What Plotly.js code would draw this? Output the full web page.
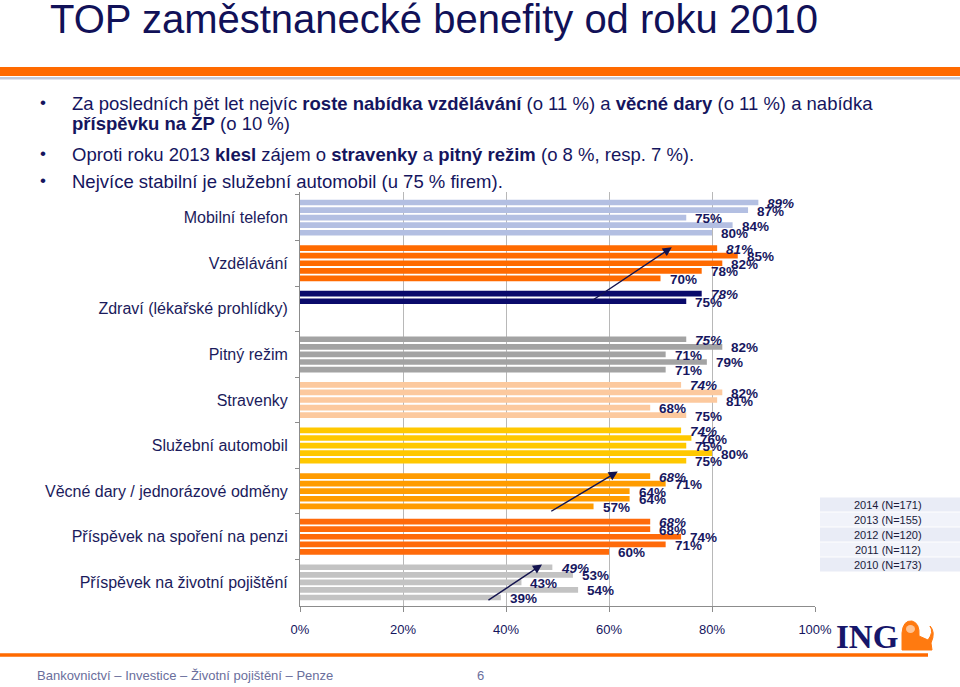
<!DOCTYPE html>
<html>
<head>
<meta charset="utf-8">
<script src="https://cdn.plot.ly/plotly-3.0.1.min.js"></script>
<style>html,body{margin:0;padding:0;background:#fff;}#chart{width:960px;height:687px;}</style>
</head>
<body>
<div id="chart"></div>
<script>
// ---- data ----
const categories = [
  'Mobilní telefon',
  'Vzdělávání',
  'Zdraví (lékařské prohlídky)',
  'Pitný režim',
  'Stravenky',
  'Služební automobil',
  'Věcné dary / jednorázové odměny',
  'Příspěvek na spoření na penzi',
  'Příspěvek na životní pojištění'
];
const seriesNames = ['2014 (N=171)', '2013 (N=155)', '2012 (N=120)', '2011 (N=112)', '2010 (N=173)'];
const v2014 = [89, 81, 78, 75, 74, 74, 68, 68, 49];
const v2013 = [87, 85, 75, 82, 82, 76, 71, 68, 53];
const v2012 = [75, 82, null, 71, 81, 75, 64, 74, 43];
const v2011 = [84, 78, null, 79, 68, 80, 64, 71, 54];
const v2010 = [80, 70, null, 71, 75, 75, 57, 60, 39];
const seriesValues = [v2014, v2013, v2012, v2011, v2010];
const categoryColors = ['#b3bfe2', '#ff6a00', '#0a0a6b', '#a3a3a3', '#fcc99e', '#ffc800', '#ff9c00', '#ff6a0a', '#c3c3c3'];
const xTickVals = [0, 20, 40, 60, 80, 100];
const xTickText = ['0%', '20%', '40%', '60%', '80%', '100%'];
// arrows: tail and head (x in %, y as category index)
const arrowTailX = [56.3, 48.5, 36.3];
const arrowTailY = [1.85, 6.46, 8.41];
const arrowHeadX = [72.2, 61.7, 47.0];
const arrowHeadY = [0.65, 5.57, 7.61];

// ---- layout constants ----
const W = 960, H = 687;
const L = 300, R = 145, T = 192, B = 81;
const PW = W - L - R, PH = H - T - B;
const px = x => (x - L) / PW;
const py = y => (H - B - y) / PH;
const BARGAP = 0.17, GROUPGAP = 0.25;
const NAVY = '#15155e';
const FONT = 'Liberation Sans, Arial, sans-serif';

const traces = seriesValues.map((vals, k) => ({
  type: 'bar',
  orientation: 'h',
  name: seriesNames[k],
  y: categories,
  x: vals,
  marker: {color: categoryColors, line: {width: 0}},
  hoverinfo: 'x+y',
  showlegend: false
}));

const annotations = [];
// data labels
const slot = (1 - BARGAP) / seriesValues.length;
seriesValues.forEach((vals, k) => {
  const off = -(1 - BARGAP) / 2 + slot * (k + 0.5);
  vals.forEach((v, i) => {
    if (v === null) return;
    annotations.push({
      x: v, y: i + off, xref: 'x', yref: 'y',
      text: v + '%', showarrow: false,
      xanchor: 'left', yanchor: 'middle', xshift: 7, yshift: -1,
      font: {family: FONT, size: 13.5, color: '#17175f', weight: 'bold', style: k === 0 ? 'italic' : 'normal'}
    });
  });
});
// arrows
arrowTailX.forEach((tx, j) => {
  annotations.push({
    x: arrowHeadX[j], y: arrowHeadY[j], ax: tx, ay: arrowTailY[j],
    xref: 'x', yref: 'y', axref: 'x', ayref: 'y',
    text: '', showarrow: true, arrowhead: 2, arrowsize: 1.3, arrowwidth: 1.4, arrowcolor: '#13134f'
  });
});
// bullets
const bulletLines = [
  {y: 104, bullet: true, text: 'Za posledních pět let nejvíc <b>roste nabídka vzdělávání</b> (o 11 %) a <b>věcné dary</b> (o 11 %) a nabídka'},
  {y: 124, bullet: false, text: '<b>příspěvku na ŽP</b> (o 10 %)'},
  {y: 154, bullet: true, text: 'Oproti roku 2013 <b>klesl</b> zájem o <b>stravenky</b> a <b>pitný režim</b> (o 8 %, resp. 7 %).'},
  {y: 181, bullet: true, text: 'Nejvíce stabilní je služební automobil (u 75 % firem).'}
];
bulletLines.forEach(b => {
  annotations.push({xref: 'paper', yref: 'paper', x: px(70), y: py(b.y), xanchor: 'left', yanchor: 'middle',
    text: b.text, showarrow: false, font: {family: FONT, size: 18.5, color: NAVY}});
  if (b.bullet) annotations.push({xref: 'paper', yref: 'paper', x: px(43), y: py(b.y - 1), xanchor: 'center', yanchor: 'middle',
    text: '•', showarrow: false, font: {family: FONT, size: 17, color: NAVY}});
});
// legend table text
const rowTop = 497, rowH = 15;
seriesNames.forEach((s, k) => {
  annotations.push({xref: 'paper', yref: 'paper', x: px(888), y: py(rowTop + rowH * k + rowH / 2), xanchor: 'center', yanchor: 'middle',
    text: s, showarrow: false, font: {family: FONT, size: 11, color: '#1a1a3a'}});
});
// footer
annotations.push({xref: 'paper', yref: 'paper', x: px(35), y: py(675), xanchor: 'left', yanchor: 'middle',
  text: 'Bankovnictví – Investice – Životní pojištění – Penze', showarrow: false, font: {family: FONT, size: 13, color: '#6a6e9c'}});
annotations.push({xref: 'paper', yref: 'paper', x: px(480), y: py(675), xanchor: 'center', yanchor: 'middle',
  text: '6', showarrow: false, font: {family: FONT, size: 13, color: '#6a6e9c'}});
annotations.push({xref: 'paper', yref: 'paper', x: px(867), y: py(637), xanchor: 'center', yanchor: 'middle',
  text: 'ING', showarrow: false, font: {family: 'Liberation Serif, DejaVu Serif, serif', size: 33, color: '#16166a', weight: 'bold'}});

const shapes = [];
// legend table rows
seriesNames.forEach((s, k) => {
  shapes.push({type: 'rect', xref: 'paper', yref: 'paper', layer: 'below',
    x0: px(820), x1: px(960), y0: py(rowTop + rowH * k + 0.5), y1: py(rowTop + rowH * (k + 1) - 0.5),
    fillcolor: k % 2 === 0 ? '#e9ecf6' : '#f1f3fa', line: {width: 0}});
});
// top band and footer line
shapes.push({type: 'rect', xref: 'paper', yref: 'paper', x0: px(0), x1: px(960), y0: py(76), y1: py(67), fillcolor: '#ff6a00', line: {width: 0}});
shapes.push({type: 'rect', xref: 'paper', yref: 'paper', x0: px(0), x1: px(960), y0: py(79.5), y1: py(77), fillcolor: '#c3c9d8', line: {width: 0}});
shapes.push({type: 'line', xref: 'paper', yref: 'paper', x0: px(0), x1: px(928), y0: py(655), y1: py(655), line: {color: '#ff6a00', width: 3.5}});
// lion (simplified)
shapes.push({type: 'path', xref: 'paper', yref: 'paper', fillcolor: '#ff7a10', line: {color: '#ff7a10', width: 1},
  path: 'M ' + px(902) + ' ' + py(650) + ' L ' + px(902) + ' ' + py(633) + ' Q ' + px(903) + ' ' + py(620) + ' ' + px(912) + ' ' + py(621) +
        ' Q ' + px(920) + ' ' + py(623) + ' ' + px(919) + ' ' + py(636) + ' L ' + px(928) + ' ' + py(640) + ' Q ' + px(934) + ' ' + py(632) + ' ' + px(930) + ' ' + py(626) +
        ' Q ' + px(936) + ' ' + py(632) + ' ' + px(931) + ' ' + py(643) + ' L ' + px(932) + ' ' + py(650) + ' Z'});
shapes.push({type: 'circle', xref: 'paper', yref: 'paper', x0: px(906), x1: px(915), y0: py(633), y1: py(625), fillcolor: '#ffffff', line: {width: 0}, opacity: 0.55});

const layout = {
  width: W, height: H,
  margin: {l: L, r: R, t: T, b: B, pad: 0},
  paper_bgcolor: '#ffffff', plot_bgcolor: '#ffffff',
  barmode: 'group', bargap: BARGAP, bargroupgap: GROUPGAP,
  font: {family: FONT, color: NAVY},
  title: {text: 'TOP zaměstnanecké benefity od roku 2010', xref: 'container', yref: 'container',
    x: 50 / W, xanchor: 'left', y: 1 - 19 / H, yanchor: 'middle',
    font: {family: FONT, size: 40, color: '#111158'}},
  xaxis: {range: [0, 100], tickmode: 'array', tickvals: xTickVals, ticktext: xTickText, showgrid: true, gridcolor: '#b8b8b8', gridwidth: 1,
    zeroline: false, showline: true, linecolor: '#8c8c8c', linewidth: 1, ticks: 'outside', ticklen: 5, tickcolor: '#8c8c8c',
    tickfont: {family: FONT, size: 13, color: NAVY}, ticklabelstandoff: 6, fixedrange: true},
  yaxis: {type: 'category', autorange: 'reversed', showline: true, linecolor: '#8c8c8c', linewidth: 1,
    ticks: 'outside', tickson: 'boundaries', ticklen: 4, tickcolor: '#8c8c8c', showgrid: false, zeroline: false,
    tickfont: {family: FONT, size: 16, color: '#1b1b5c'}, ticklabelstandoff: 8, fixedrange: true},
  annotations: annotations,
  shapes: shapes,
  showlegend: false
};

Plotly.newPlot('chart', traces, layout, {displayModeBar: false, staticPlot: true});
</script>
</body>
</html>
